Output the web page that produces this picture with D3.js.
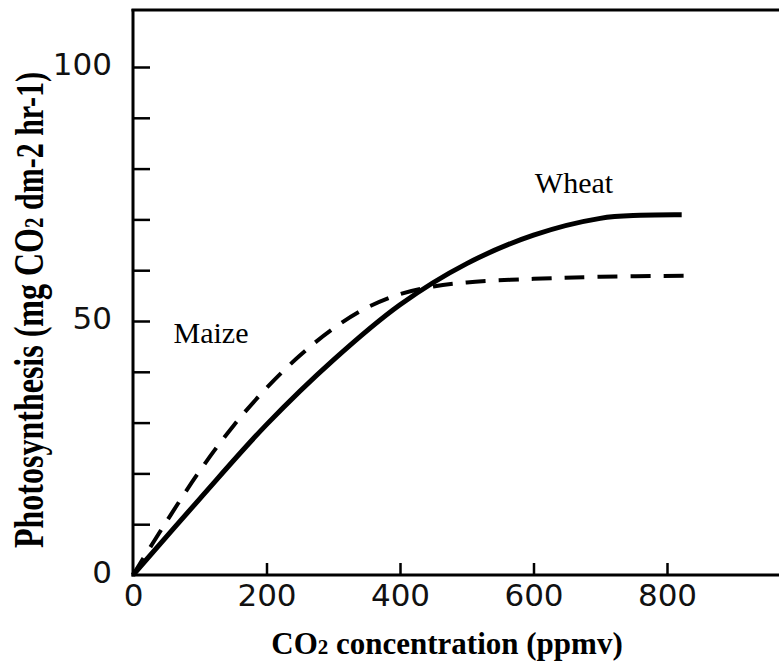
<!DOCTYPE html>
<html>
<head>
<meta charset="utf-8">
<script src="https://cdn.jsdelivr.net/npm/d3@7"></script>
<style>
  html, body { margin: 0; padding: 0; background: #fff; }
  svg { display: block; }
</style>
</head>
<body>
<svg id="chart" width="779" height="662"></svg>
<script>
// ---- data ----
const wheatX = [0, 100, 200, 300, 400, 500, 600, 700, 760, 822];
const wheatY = [0, 15, 29.6, 42.3, 53.2, 61.3, 66.9, 70.2, 70.8, 70.9];
const maizeX = [0, 50, 100, 150, 200, 250, 300, 350, 400, 450, 500, 600, 700, 826];
const maizeY = [0, 10.5, 20.5, 29.3, 36.8, 43.2, 48.5, 52.6, 55.3, 56.8, 57.6, 58.3, 58.7, 58.9];
const xTicks = [0, 200, 400, 600, 800];
const yTicks = [0, 10, 20, 30, 40, 50, 60, 70, 80, 90, 100];
const yLabels = [0, 50, 100];
const seriesLabels = ["Wheat", "Maize"];

// ---- layout ----
const svg = d3.select("#chart");
const x = d3.scaleLinear().domain([0, 800]).range([133, 667]);
const y = d3.scaleLinear().domain([0, 100]).range([575, 67]);

const ink = "#000";

// frame lines (left axis, bottom axis, top line)
svg.append("line").attr("x1", 133).attr("x2", 133).attr("y1", 9).attr("y2", 576.5)
  .attr("stroke", ink).attr("stroke-width", 3);
svg.append("line").attr("x1", 131.5).attr("x2", 779).attr("y1", 575).attr("y2", 575)
  .attr("stroke", ink).attr("stroke-width", 3);
svg.append("line").attr("x1", 131.5).attr("x2", 779).attr("y1", 10).attr("y2", 10)
  .attr("stroke", ink).attr("stroke-width", 3);

// x axis
const gx = svg.append("g").attr("transform", "translate(0,575)")
  .call(d3.axisBottom(x).tickValues(xTicks).tickSizeInner(-12).tickSizeOuter(0).tickPadding(9));
gx.select(".domain").remove();
gx.selectAll(".tick line").attr("stroke", ink).attr("stroke-width", 2.5)
  .filter(d => d === 0).remove();
gx.selectAll(".tick text").attr("font-family", "'DejaVu Sans', sans-serif")
  .attr("font-size", 31).attr("fill", "#111");

// y axis
const gy = svg.append("g").attr("transform", "translate(133,0)")
  .call(d3.axisLeft(y).tickValues(yTicks).tickSizeInner(-17).tickSizeOuter(0).tickPadding(21)
    .tickFormat(d => yLabels.includes(d) ? d : ""));
gy.select(".domain").remove();
gy.selectAll(".tick line").attr("stroke", ink).attr("stroke-width", 2.5)
  .filter(d => d === 0).remove();
gy.selectAll(".tick text").attr("font-family", "'DejaVu Sans', sans-serif")
  .attr("font-size", 31).attr("fill", "#111").attr("dy", "0.25em");

// curves
const line = d3.line().x(d => x(d[0])).y(d => y(d[1])).curve(d3.curveCatmullRom.alpha(0.5));
const maize = maizeX.map((v, i) => [v, maizeY[i]]);
const wheat = wheatX.map((v, i) => [v, wheatY[i]]);

svg.append("path").datum(maize).attr("d", line)
  .attr("fill", "none").attr("stroke", ink).attr("stroke-width", 4)
  .attr("stroke-dasharray", "20,13");
svg.append("path").datum(wheat).attr("d", line)
  .attr("fill", "none").attr("stroke", ink).attr("stroke-width", 5);

// series labels
svg.append("text").attr("x", 574).attr("y", 193).attr("text-anchor", "middle")
  .attr("font-family", "'Liberation Serif', 'Times New Roman', serif").attr("font-size", 30)
  .text(seriesLabels[0]);
svg.append("text").attr("x", 211).attr("y", 343).attr("text-anchor", "middle")
  .attr("font-family", "'Liberation Serif', 'Times New Roman', serif").attr("font-size", 30)
  .text(seriesLabels[1]);

// axis titles
const xt = svg.append("text").attr("x", 447).attr("y", 654).attr("text-anchor", "middle")
  .attr("font-family", "'Liberation Serif', 'Times New Roman', serif").attr("font-weight", "bold")
  .attr("font-size", 31).attr("fill", ink);
xt.append("tspan").text("CO");
xt.append("tspan").attr("font-size", 21).text("2");
xt.append("tspan").text(" concentration (ppmv)");

const yt = svg.append("text").attr("transform", "translate(43,310) rotate(-90) scale(1,1.3)")
  .attr("text-anchor", "middle")
  .attr("font-family", "'Liberation Serif', 'Times New Roman', serif").attr("font-weight", "bold")
  .attr("font-size", 32).attr("fill", ink);
yt.append("tspan").text("Photosynthesis (mg CO");
yt.append("tspan").attr("font-size", 21).text("2");
yt.append("tspan").attr("font-size", 30).text(" dm-2 hr-1)");
</script>
</body>
</html>
